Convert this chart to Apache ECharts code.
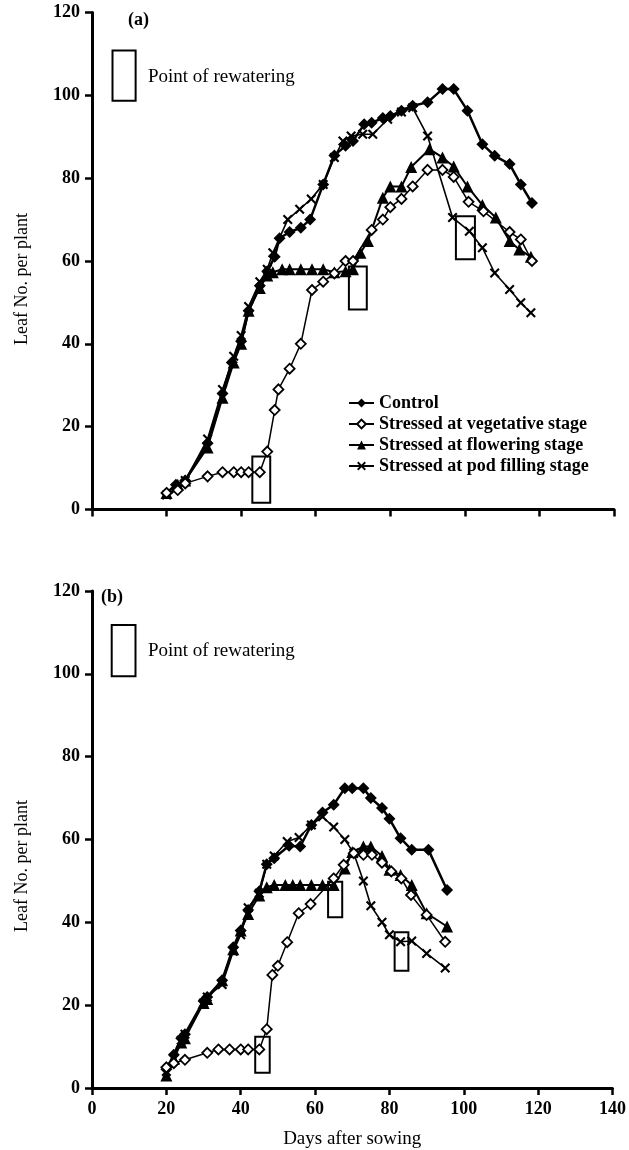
<!DOCTYPE html>
<html>
<head>
<meta charset="utf-8">
<script src="https://cdn.jsdelivr.net/npm/echarts@6/dist/echarts.min.js"></script>
<style>
html,body{margin:0;padding:0;background:#fff;}
#chart{width:629px;height:1150px;}
</style>
</head>
<body>
<div id="chart"></div>
<script>
// ---------- data: [day, leaf number] ----------
const seriesNames = ['Control', 'Stressed at vegetative stage', 'Stressed at flowering stage', 'Stressed at pod filling stage'];
const xTicks = [0, 20, 40, 60, 80, 100, 120, 140];
const yTicks = [0, 20, 40, 60, 80, 100, 120];

// Panel (a)
const controlA = [[20,4],[22.5,6],[25,7],[31,16],[35,28],[37.5,35.5],[40,40.6],[42,48],[45,54],[47,57.5],[49,61],[50.3,65.5],[53,67],[56,68],[58.5,70],[62,78.5],[65,85.5],[68,87.8],[70,89],[73,93],[75,93.4],[78,94.5],[80,95],[83,96.3],[86,97.5],[90,98.3],[94,101.5],[97,101.5],[100.7,96.3],[104.7,88.2],[108,85.4],[112,83.4],[115,78.5],[118,74]];
const vegetativeA = [[20,4],[23,4.7],[25,6.3],[31,8],[35,9],[38,9],[40,9],[42,9],[45,9],[47,14],[49,24],[50,29],[53,34],[56,40],[59,53],[62,55],[65,57],[68,60],[70,60],[75,67.5],[78,70],[80,73],[83,75],[86,78],[90,82],[94,82],[97,80.3],[101,74.3],[105,72],[112,67],[115,65.2],[118,60]];
const floweringA = [[20,4],[23,6],[25,7],[31,15],[35,27],[38,35.5],[40,40],[42,48],[45,53.5],[47,56.5],[48.5,57.3],[51,58],[53,58],[56,58],[59,58],[62,58],[65,57.3],[68,57.5],[70,58],[72,62],[74,64.8],[78,75.3],[80,78],[83,78],[85.6,82.7],[90.5,87],[94,85],[97,82.8],[100.7,78],[104.7,73.5],[108.3,70.5],[112,64.8],[114.6,62.8],[117.7,61]];
const podA = [[20,3.5],[22.5,5],[25,7],[31,17],[35,29],[38,37],[40,42],[42,49],[45,55],[47,58],[48.5,62],[52.5,70],[55.7,72.5],[58.8,75],[62,78.5],[65,85],[67.3,89],[69.5,90.2],[72.6,90.6],[75.3,90.6],[79.3,94.2],[83,96],[86,97],[90,90.2],[96.7,70.5],[101.2,67.2],[104.7,63.2],[108,57.1],[112,53.1],[115,49.9],[117.7,47.5]];
// rewatering boxes: [xStart, xEnd, yLow, yHigh]
const rewaterA = [[43,47.8,1.6,12.8],[68.9,73.7,48.3,58.7],[97.6,102.7,60.4,70.8]];
const keyBoxA = [[5.5,11.7,98.7,110.8]];

// Panel (b)
const controlB = [[20,4.5],[22,8],[24,12],[25,13],[30,21],[31,22],[35,26],[38,34],[40,38],[42,43],[45,47.5],[47,54],[49,55.5],[53,58.5],[56,58.3],[59,63.5],[62,66.5],[65,68.4],[68,72.4],[70,72.4],[73,72.4],[75,70],[78,67.6],[80,65],[83,60.3],[86,57.5],[90.5,57.5],[95.5,47.8]];
const vegetativeB = [[20,5],[22,6],[25,6.8],[31,8.5],[34,9.3],[37,9.3],[40,9.3],[42,9.3],[45,9.3],[47,14.2],[48.5,27.3],[50,29.5],[52.5,35.2],[55.6,42.2],[58.8,44.4],[65,50.6],[67.7,53.9],[70.4,56.7],[73,56.3],[75.3,56.3],[78,54.4],[80.5,52.3],[83.2,50.6],[85.8,46.6],[90,41.8],[95,35.3]];
const floweringB = [[20,3],[22,7],[24,11],[25,12],[30,20.5],[31,21.5],[35,26],[38,33.5],[40,38],[42,42],[45,46.5],[47,48.5],[49,49],[52,49],[54,49],[56,49],[59,49],[62,49],[65,49],[68,53],[70,57],[73,58.3],[75,58.3],[78,56],[80,52.7],[83,51.4],[86,49],[90,42.2],[95.5,39]];
const podB = [[20,4],[22,7],[24,11.5],[25,13],[30,20.5],[31,22],[35,25],[38,33],[40,37],[42,43.5],[45,47],[47,54],[49,56],[52.5,59.5],[55.7,60.5],[59,63.5],[62,65.5],[65,63],[68,60],[70.4,56.7],[73,50],[75,44],[78,40],[80,37],[83,35.3],[86,35.5],[90,32.5],[95,29]];
const rewaterB = [[43.9,47.8,3.7,12.4],[63.5,67.3,41.2,49.8],[81.4,85.1,28.3,37.6]];
const keyBoxB = [[5.3,11.7,99.4,111.8]];

// ---------- chart ----------
const FONT = 'Liberation Serif, Times New Roman, serif';
const crossPath = 'path://M0,1.5 L1.5,0 L5,3.5 L8.5,0 L10,1.5 L6.5,5 L10,8.5 L8.5,10 L5,6.5 L1.5,10 L0,8.5 L3.5,5 Z';

const styles = [
  {symbol:'diamond', symbolSize:12, lw:2.5, item:{color:'#000'}},
  {symbol:'diamond', symbolSize:10, lw:1.5, item:{color:'#fff', borderColor:'#000', borderWidth:1.8}},
  {symbol:'triangle', symbolSize:12, lw:2, item:{color:'#000'}},
  {symbol:crossPath, symbolSize:10, lw:1.6, item:{color:'#000'}}
];

function lineSeries(idx, data, gi, z) {
  const s = styles[idx];
  return {
    type:'line', name: seriesNames[idx], data: data,
    xAxisIndex: gi, yAxisIndex: gi,
    symbol: s.symbol, symbolSize: s.symbolSize, showAllSymbol: true,
    lineStyle: {color:'#000', width: s.lw},
    itemStyle: s.item,
    emphasis: {disabled:true},
    animation:false, z: z
  };
}
function boxSeries(data, gi) {
  return {
    type:'custom', name:'boxes', data:data, xAxisIndex:gi, yAxisIndex:gi,
    animation:false, z:5, clip:false,
    renderItem: function(params, api){
      const p0 = api.coord([api.value(0), api.value(3)]);
      const p1 = api.coord([api.value(1), api.value(2)]);
      return {type:'rect', shape:{x:p0[0], y:p0[1], width:p1[0]-p0[0], height:p1[1]-p0[1]},
              style:{fill:'none', stroke:'#000', lineWidth:2}};
    }
  };
}
function xAxisDef(gi, showLabels) {
  return {
    type:'value', gridIndex:gi, min:xTicks[0], max:xTicks[xTicks.length-1], interval:20,
    splitLine:{show:false},
    axisLine:{lineStyle:{color:'#000', width:3}},
    axisTick:{show:true, length:7, lineStyle:{color:'#000', width:2.5}},
    axisLabel:{show:showLabels, margin:12, color:'#000', fontFamily:FONT, fontSize:18, fontWeight:'bold'},
    name: showLabels ? 'Days after sowing' : '',
    nameLocation:'middle', nameGap:42,
    nameTextStyle:{color:'#000', fontFamily:FONT, fontSize:19}
  };
}
function yAxisDef(gi) {
  return {
    type:'value', gridIndex:gi, min:yTicks[0], max:yTicks[yTicks.length-1], interval:20,
    splitLine:{show:false},
    axisLine:{show:true, lineStyle:{color:'#000', width:3}},
    axisTick:{show:true, length:7, lineStyle:{color:'#000', width:2.5}},
    axisLabel:{margin:12, color:'#000', fontFamily:FONT, fontSize:18, fontWeight:'bold'}
  };
}

const chart = echarts.init(document.getElementById('chart'), null, {renderer:'canvas'});
chart.setOption({
  backgroundColor:'#fff',
  animation:false,
  grid:[
    {left:92, top:12.5, width:522, height:497},
    {left:92, top:591, width:522, height:497}
  ],
  xAxis:[xAxisDef(0,false), xAxisDef(1,true)],
  yAxis:[yAxisDef(0), yAxisDef(1)],
  legend:{
    data: seriesNames,
    orient:'vertical', left:343, top:389,
    itemWidth:25, itemHeight:11, itemGap:3,
    selectedMode:false,
    textStyle:{color:'#000', fontFamily:FONT, fontSize:18, fontWeight:'bold', lineHeight:18}
  },
  graphic:[
    {type:'text', left:128, top:11, style:{text:'(a)', fill:'#000', font:'bold 18px ' + FONT}},
    {type:'text', left:101, top:588, style:{text:'(b)', fill:'#000', font:'bold 18px ' + FONT}},
    {type:'text', x:148, y:77, style:{text:'Point of rewatering', fill:'#000', font:'19px ' + FONT, textVerticalAlign:'middle'}},
    {type:'text', x:148, y:651, style:{text:'Point of rewatering', fill:'#000', font:'19px ' + FONT, textVerticalAlign:'middle'}},
    {type:'text', x:22, y:279, rotation:Math.PI/2, style:{text:'Leaf No. per plant', fill:'#000', font:'18px ' + FONT, textAlign:'center', textVerticalAlign:'middle'}},
    {type:'text', x:22, y:866, rotation:Math.PI/2, style:{text:'Leaf No. per plant', fill:'#000', font:'18px ' + FONT, textAlign:'center', textVerticalAlign:'middle'}}
  ],
  series:[
    lineSeries(3, podA, 0, 2),
    lineSeries(2, floweringA, 0, 3),
    lineSeries(0, controlA, 0, 4),
    lineSeries(1, vegetativeA, 0, 5),
    boxSeries(rewaterA, 0),
    boxSeries(keyBoxA, 0),
    lineSeries(3, podB, 1, 2),
    lineSeries(2, floweringB, 1, 3),
    lineSeries(0, controlB, 1, 4),
    lineSeries(1, vegetativeB, 1, 5),
    boxSeries(rewaterB, 1),
    boxSeries(keyBoxB, 1)
  ]
});
</script>
</body>
</html>
